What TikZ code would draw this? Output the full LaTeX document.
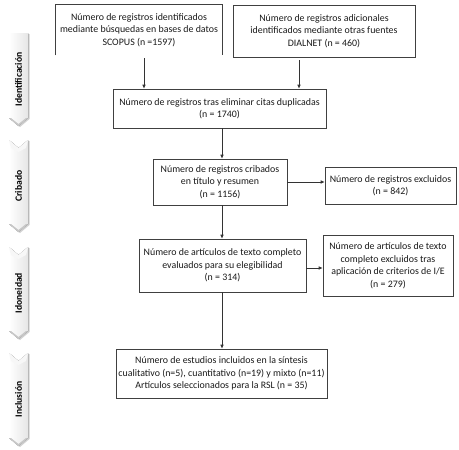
\documentclass[tikz,border=0pt]{standalone}
\usepackage{fontspec}
\setmainfont{Carlito}
\usetikzlibrary{arrows.meta,calc}
\begin{document}
\begin{tikzpicture}[x=1pt,y=-1pt,
  box/.style={draw=black!75,line width=0.6pt,align=center,inner sep=0pt,font=\fontsize{9.9}{12.5}\selectfont,text=black!90},
  conn/.style={draw=black!80,line width=0.6pt},
  arr/.style={conn,-{Latex[length=4pt,width=3.5pt]}},
  tablabel/.style={rotate=90,font=\bfseries\fontsize{9.6}{10}\selectfont,text=black}]
\useasboundingbox (0,0) rectangle (459,450);
% tabs
\foreach \name/\lab/\top/\bot/\first in {tI/Identificación/33/126/1,tC/Cribado/140/232/0,tD/Idoneidad/247/339/0,tN/Inclusión/353/446/0}{
  \ifnum\first=1
    \fill[black!18] (10.5,\top+1) -- (29.5,\top+1) -- (29.5,\bot-7) -- (20,\bot+1) -- (10.5,\bot-7) -- cycle;
    \fill[left color=white,right color=black!10] (9,\top) -- (28,\top) -- (28,\bot-8) -- (18.5,\bot) -- (9,\bot-8) -- cycle;
  \else
    \fill[black!18] (10.5,\top+1) -- (20,\top+9) -- (29.5,\top+1) -- (29.5,\bot-7) -- (20,\bot+1) -- (10.5,\bot-7) -- cycle;
    \fill[left color=white,right color=black!10] (9,\top) -- (18.5,\top+8) -- (28,\top) -- (28,\bot-8) -- (18.5,\bot) -- (9,\bot-8) -- cycle;
    \fill[black!3] (9,\top) -- (18.5,\top+8) -- (28,\top) -- (26,\top+8) -- (18.5,\top+12)-- (11,\top+8) -- cycle;
  \fi
  \fill[black!22] (11,\bot-8) -- (18.5,\bot-2) -- (26,\bot-8) -- (28,\bot-8) -- (18.5,\bot) -- (9,\bot-8) -- cycle;
  \draw[black!28,line width=0.8pt] (28,\top+1) -- (28,\bot-8);
  \node[tablabel] (\name) at (18.5,{(\top+\bot)/2}) {\lab};
}
% boxes
\node[box,draw=none,minimum width=166pt,minimum height=50pt] (a) at (139,30) {Número de registros identificados\\mediante búsquedas en bases de datos\\SCOPUS (n =1597)};
\draw[black!75,line width=0.6pt] (a.south west) -- (a.north west) -- (a.north east) -- (a.south east);
\node[box,minimum width=182pt,minimum height=52pt] (b) at (324,31) {Número de registros adicionales\\identificados mediante otras fuentes\\DIALNET (n = 460)};
\node[box,minimum width=213pt,minimum height=39pt] (c) at (219.5,108.5) {Número de registros tras eliminar citas duplicadas\\(n = 1740)};
\node[box,minimum width=134pt,minimum height=46pt] (d) at (220,182) {Número de registros cribados\\en título y resumen\\(n = 1156)};
\node[box,minimum width=131pt,minimum height=37pt] (e) at (390.5,185.5) {Número de registros excluidos\\(n = 842)};
\node[box,minimum width=167pt,minimum height=53pt] (f) at (222.5,265.5) {Número de artículos de texto completo\\evaluados para su elegibilidad\\(n = 314)};
\node[box,minimum width=130pt,minimum height=61pt] (g) at (388,265.5) {Número de artículos de texto\\completo excluidos tras\\aplicación de criterios de I/E\\(n = 279)};
\node[box,minimum width=211pt,minimum height=49pt] (h) at (221.5,373.5) {Número de estudios incluidos en la síntesis\\cualitativo (n=5), cuantitativo (n=19) y mixto (n=11)\\Artículos seleccionados para la RSL (n = 35)};
% connectors
\coordinate (a1) at (144,58);
\coordinate (b1) at (299,60);
\draw[arr] (a1) -- (a1 |- c.north);
\draw[arr] (b1) -- (b1 |- c.north);
\draw[arr] (c.south -| 222,0) -- (d.north -| 222,0);
\draw[arr] (d.east |- 0,182) -- (e.west |- 0,182);
\draw[arr] (d.south -| 222,0) -- (f.north -| 222,0);
\draw[arr] (f.east |- 0,268) -- (g.west |- 0,268);
\draw[arr] (f.south -| 222,0) -- (h.north -| 222,0);
\end{tikzpicture}
\end{document}
